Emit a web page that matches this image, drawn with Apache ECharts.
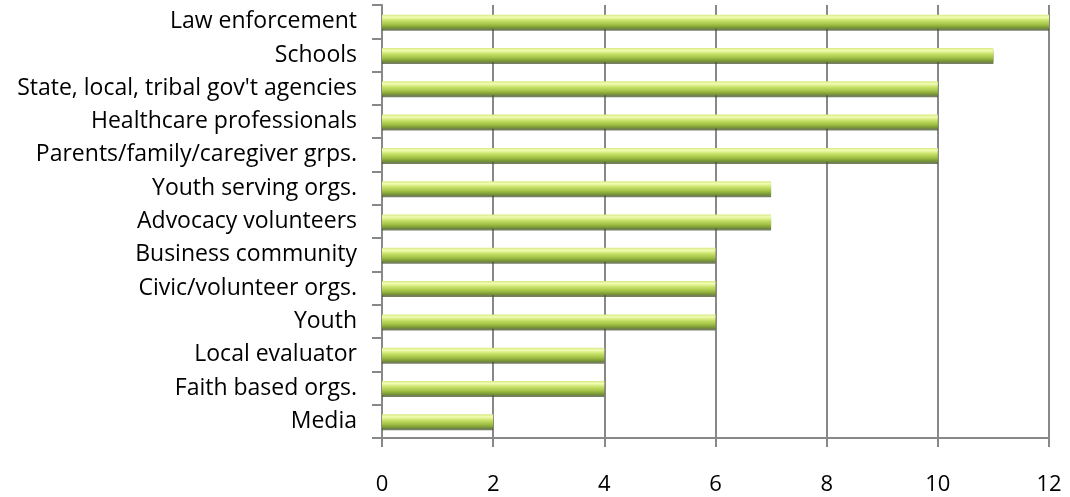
<!DOCTYPE html>
<html><head><meta charset="utf-8">
<script src="https://cdn.jsdelivr.net/npm/echarts@6/dist/echarts.min.js"></script>
<style>html,body{margin:0;padding:0;background:#fff}#c{width:1070px;height:497px}</style>
</head><body><div id="c"></div>
<script>
const categories = ["Law enforcement","Schools","State, local, tribal gov't agencies","Healthcare professionals","Parents/family/caregiver grps.","Youth serving orgs.","Advocacy volunteers","Business community","Civic/volunteer orgs.","Youth","Local evaluator","Faith based orgs.","Media"];
const values = [12,11,10,10,10,7,7,6,6,6,4,4,2];
const xTicks = [0,2,4,6,8,10,12];

const chart = echarts.init(document.getElementById('c'), null, {renderer:'canvas'});
const font = 'Open Sans';
chart.setOption({
  animation:false,
  grid:{left:382,right:21,top:5,bottom:59,containLabel:false},
  xAxis:{type:'value',min:xTicks[0],max:xTicks[xTicks.length-1],interval:2,
    axisLine:{show:true,lineStyle:{color:'#888',width:2}},
    axisTick:{show:true,length:9,lineStyle:{color:'#888',width:2}},
    axisLabel:{margin:36,color:'#000',fontFamily:font,fontSize:22},
    splitLine:{show:true,lineStyle:{color:'#888',width:2}}},
  yAxis:{type:'category',data:categories,inverse:true,
    axisLine:{show:true,lineStyle:{color:'#888',width:2}},
    axisTick:{show:true,length:10,alignWithLabel:false,lineStyle:{color:'#888',width:2}},
    axisLabel:{margin:25,color:'#000',fontFamily:font,fontSize:23,padding:[5,0,0,0]}},
  series:[{type:'bar',data:values,barWidth:14,
    itemStyle:{
      color:new echarts.graphic.LinearGradient(0,0,0,1,[
        {offset:0,color:'#d6ea80'},
        {offset:0.18,color:'#f2fcb4'},
        {offset:0.4,color:'#cbe46c'},
        {offset:0.7,color:'#a2c246'},
        {offset:1,color:'#6e8b30'}]),
      shadowColor:'rgba(70,85,40,0.75)',shadowOffsetY:2,shadowOffsetX:0,shadowBlur:0}}]
});
</script></body></html>
